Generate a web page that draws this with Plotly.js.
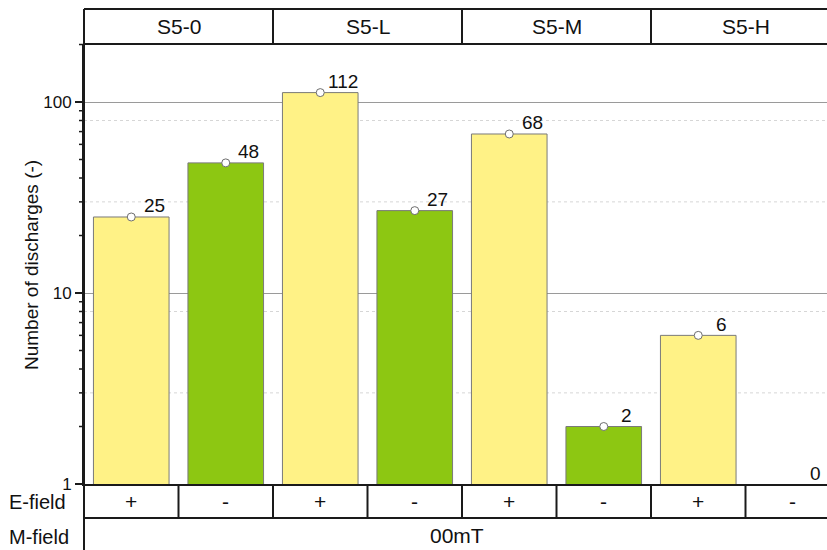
<!DOCTYPE html>
<html>
<head>
<meta charset="utf-8">
<script src="https://cdn.plot.ly/plotly-3.0.1.min.js"></script>
<style>
  html, body { margin: 0; padding: 0; background: #ffffff; }
  #chart { width: 827px; height: 550px; }
</style>
</head>
<body>
<div id="chart"></div>
<script>
// Sample groups (header row), E-field polarity per bar, discharge counts
const groups = ["S5-0", "S5-L", "S5-M", "S5-H"];
const eField = ["+", "-", "+", "-", "+", "-", "+", "-"];
const discharges = [25, 48, 112, 27, 68, 2, 6, 0];
const mField = "00mT";
const minorTickVals = [2, 3, 4, 5, 6, 7, 8, 9, 20, 30, 40, 50, 60, 70, 80, 90, 200];
const minorGridVals = [3, 8, 30, 80];

const FONT = "Liberation Sans, Arial, sans-serif";
const YELLOW = "#FFF286";
const GREEN = "#8DC712";
const EDGE = "#7a7a7a";

// Frame geometry (pixels)
const W = 827, H = 550;
const L = 84, T = 44, B = 484;
const plotW = W - L, plotH = B - T;
const slotPx = 94.5;           // one bar slot
const decadePx = 191;          // one log decade
const xEnd = -0.5 + plotW / slotPx;
const yTop = 2 + (102 - T) / decadePx;
const yMin = 0;
const py = pix => (B - pix) / plotH;   // pixel row -> paper y
const logToPaper = v => (Math.log10(v) - yMin) / (yTop - yMin);
const hTop = py(9);             // top of group header
const eBot = py(518);           // bottom of E-field row
const mBot = py(560);

const xs = discharges.map((_, i) => i);

const bars = {
  type: "bar",
  x: xs,
  y: discharges,
  width: 0.8,
  marker: {
    color: eField.map(s => s === "+" ? YELLOW : GREEN),
    line: { color: EDGE, width: 1 }
  },
  hoverinfo: "skip"
};

const points = {
  type: "scatter",
  mode: "markers",
  x: xs,
  y: discharges,
  marker: { color: "#ffffff", size: 8, line: { color: "#6e6e6e", width: 1 } },
  cliponaxis: false,
  hoverinfo: "skip"
};

const line = (o) => Object.assign({ type: "line", layer: "above",
  line: { color: "#1a1a1a", width: 2 } }, o);

const shapes = [];
// faint minor grid
minorGridVals.forEach(v => shapes.push({
  type: "line", layer: "below", xref: "paper", x0: 0, x1: 1,
  yref: "y", y0: v, y1: v,
  line: { color: "#d6d6d6", width: 1, dash: "dot" }
}));
// short minor ticks on the left axis (outside the plot area)
minorTickVals.forEach(v => shapes.push({
  type: "line", layer: "above", xref: "paper", x0: -5 / plotW, x1: 0,
  yref: "paper", y0: logToPaper(v), y1: logToPaper(v),
  line: { color: "#1a1a1a", width: 1.5 }
}));
// left rule through header, plot and table
shapes.push(line({ xref: "paper", x0: 0, x1: 0, yref: "paper", y0: mBot, y1: hTop }));
// group header box
shapes.push(line({ xref: "paper", x0: 0, x1: 1.05, yref: "paper", y0: hTop, y1: hTop }));
shapes.push(line({ xref: "paper", x0: 0, x1: 1.05, yref: "paper", y0: 1, y1: 1 }));
groups.forEach((g, k) => {
  if (k > 0) shapes.push(line({ xref: "x", x0: 2 * k - 0.5, x1: 2 * k - 0.5,
    yref: "paper", y0: 1, y1: hTop }));
});
// E-field row
shapes.push(line({ xref: "paper", x0: 0, x1: 1.05, yref: "paper", y0: eBot, y1: eBot }));
eField.forEach((s, i) => {
  shapes.push(line({ xref: "x", x0: i + 0.5, x1: i + 0.5, yref: "paper", y0: eBot, y1: 0 }));
});

const annotations = [];
groups.forEach((g, k) => annotations.push({
  text: g, xref: "x", x: 2 * k + 0.5, yref: "paper", y: (1 + hTop) / 2,
  showarrow: false, xanchor: "center", yanchor: "middle",
  font: { family: FONT, size: 21, color: "#111" }
}));
eField.forEach((s, i) => annotations.push({
  text: s, xref: "x", x: i, yref: "paper", y: (0 + eBot) / 2,
  showarrow: false, xanchor: "center", yanchor: "middle",
  font: { family: FONT, size: 21, color: "#111" }
}));
annotations.push({
  text: mField, xref: "x", x: (eField.length - 1) / 2 - 0.05, yref: "paper", y: py(535),
  showarrow: false, xanchor: "center", yanchor: "middle",
  font: { family: FONT, size: 21, color: "#111" }
});
annotations.push({
  text: "E-field", xref: "paper", x: (7 - L) / plotW, yref: "paper", y: py(502),
  showarrow: false, xanchor: "left", yanchor: "middle",
  font: { family: FONT, size: 20, color: "#111" }
});
annotations.push({
  text: "M-field", xref: "paper", x: (7 - L) / plotW, yref: "paper", y: py(537),
  showarrow: false, xanchor: "left", yanchor: "middle",
  font: { family: FONT, size: 20, color: "#111" }
});
annotations.push({
  text: "Number of discharges (-)", xref: "paper", x: (31 - L) / plotW,
  yref: "paper", y: py(265), textangle: -90,
  showarrow: false, xanchor: "center", yanchor: "middle",
  font: { family: FONT, size: 19, color: "#111" }
});
// value labels
discharges.forEach((v, i) => annotations.push({
  text: String(v), xref: "x", x: i, yref: "y", y: v > 0 ? Math.log10(v) : 0,
  showarrow: false, xanchor: "center", yanchor: "middle",
  xshift: 23, yshift: 11,
  font: { family: FONT, size: 19, color: "#111" }
}));

const layout = {
  width: W, height: H,
  margin: { l: L, r: 0, t: T, b: H - B, pad: 0 },
  paper_bgcolor: "#ffffff",
  plot_bgcolor: "#ffffff",
  showlegend: false,
  bargap: 0.2,
  xaxis: {
    range: [-0.5, xEnd],
    showline: true, linecolor: "#1a1a1a", linewidth: 2,
    showticklabels: false, ticks: "", showgrid: false, zeroline: false,
    fixedrange: true
  },
  yaxis: {
    type: "log",
    range: [yMin, yTop],
    dtick: 1,
    ticks: "outside", ticklen: 7, tickwidth: 1.5, tickcolor: "#1a1a1a",
    tickfont: { family: FONT, size: 17, color: "#111" },
    showline: true, linecolor: "#1a1a1a", linewidth: 2,
    showgrid: true, gridcolor: "#9a9a9a", gridwidth: 1,
    zeroline: false,
    fixedrange: true
  },
  shapes: shapes,
  annotations: annotations
};

Plotly.newPlot("chart", [bars, points], layout, { displayModeBar: false, staticPlot: true });
</script>
</body>
</html>
